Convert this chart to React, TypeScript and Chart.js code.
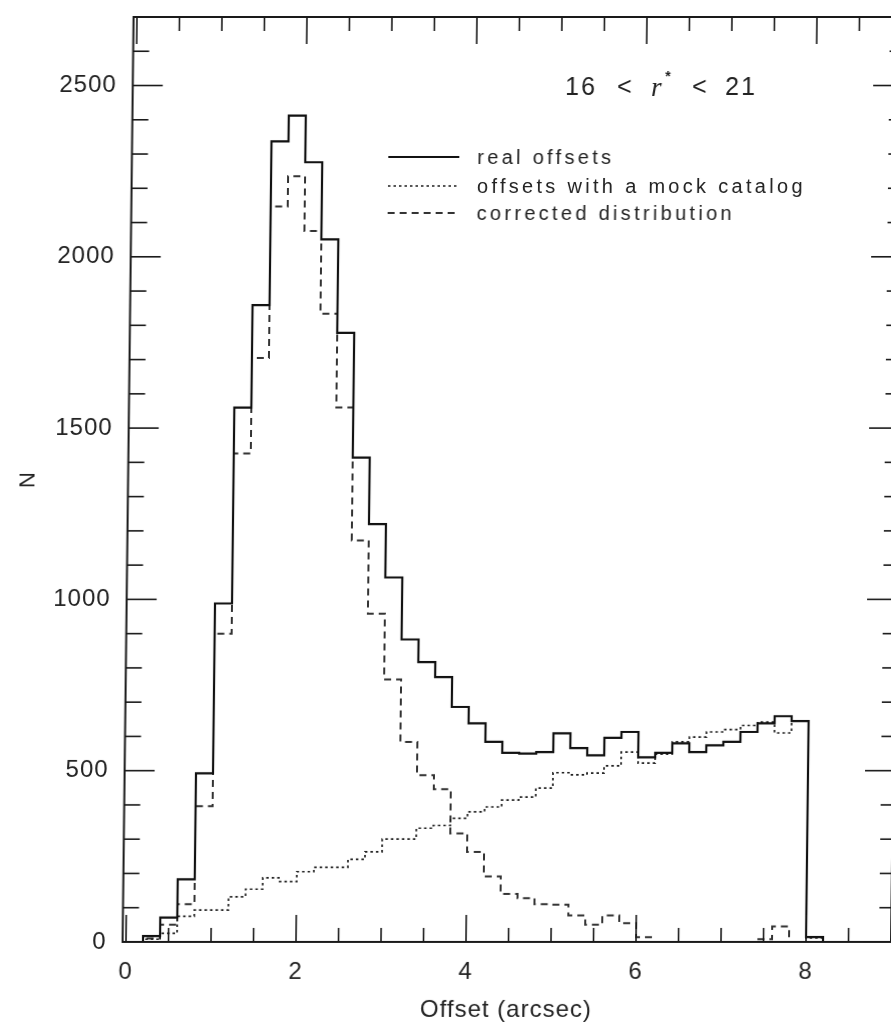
import React, { useEffect, useRef } from "react";
import { Chart, registerables } from "chart.js";

Chart.register(...registerables);

// Bin edges of the histogram (arcsec); the last edge closes the final bin
const binEdges = [
  0.0, 0.2, 0.4, 0.6, 0.8, 1.0, 1.2, 1.4, 1.6, 1.8, 2.0, 2.2, 2.4, 2.6, 2.8,
  3.0, 3.2, 3.4, 3.6, 3.8, 4.0, 4.2, 4.4, 4.6, 4.8, 5.0, 5.2, 5.4, 5.6, 5.8,
  6.0, 6.2, 6.4, 6.6, 6.8, 7.0, 7.2, 7.4, 7.6, 7.8, 8.0, 8.2, 8.4, 8.6, 8.8, 9.0,
];

// Counts per bin (one value per bin, bins start at binEdges[i])
const realOffsets = [
  0, 17, 71, 183, 492, 988, 1560, 1859, 2337, 2412, 2276, 2051, 1778, 1414, 1220,
  1064, 883, 817, 773, 686, 638, 584, 552, 550, 554, 609, 566, 545, 596, 613,
  539, 552, 580, 554, 574, 584, 613, 638, 659, 645, 14, 0, 0, 0, 0,
];
const mockOffsets = [
  0, 8, 25, 75, 93, 93, 132, 154, 187, 176, 205, 218, 218, 241, 263,
  300, 300, 332, 340, 361, 380, 394, 414, 423, 449, 494, 488, 493, 514, 554,
  522, 548, 584, 598, 613, 620, 632, 642, 610, 645, 12, 0, 0, 0, 0,
];
const correctedOffsets = [
  0, 10, 50, 110, 396, 900, 1426, 1705, 2147, 2235, 2075, 1834, 1560, 1172, 958,
  766, 584, 487, 446, 317, 263, 191, 140, 128, 110, 109, 77, 50, 77, 55,
  14, 0, 0, 0, 0, 0, 0, 8, 45, 0, 0, 0, 0, 0, 0,
];

const seriesLabels = ["real offsets", "offsets with a mock catalog", "corrected distribution"];

const xMajorTicks = [0, 2, 4, 6, 8];
const xMinorTicks = [0.5, 1, 1.5, 2.5, 3, 3.5, 4.5, 5, 5.5, 6.5, 7, 7.5, 8.5];
const yMajorTicks = [0, 500, 1000, 1500, 2000, 2500];
const yMinorTicks = [
  100, 200, 300, 400, 600, 700, 800, 900, 1100, 1200, 1300, 1400, 1600, 1700,
  1800, 1900, 2100, 2200, 2300, 2400, 2600,
];

const styles = [
  { color: "#111111", width: 2.2, dash: [] as number[] },
  { color: "#1e1e1e", width: 1.7, dash: [2.5, 3] },
  { color: "#333333", width: 2, dash: [7, 5] },
];

const FONT = '"Liberation Sans", Arial, sans-serif';

function toSteps(values: number[]) {
  return binEdges.map((x, i) => ({ x, y: i < values.length ? values[i] : values[values.length - 1] }));
}

const framePlugin = {
  id: "frameTicks",
  beforeDraw(chart: any) {
    chart.ctx.letterSpacing = "1px";
  },
  afterDatasetsDraw(chart: any) {
    const { ctx, chartArea: a, scales } = chart;
    const xs = scales.x;
    const ys = scales.y;
    ctx.save();
    ctx.letterSpacing = "0px";
    ctx.strokeStyle = "#1a1a1a";
    ctx.lineWidth = 2;
    ctx.setLineDash([]);
    ctx.strokeRect(a.left, a.top, a.right - a.left, a.bottom - a.top);
    ctx.lineWidth = 1.6;
    const seg = (x1: number, y1: number, x2: number, y2: number) => {
      ctx.beginPath();
      ctx.moveTo(x1, y1);
      ctx.lineTo(x2, y2);
      ctx.stroke();
    };
    xMajorTicks.forEach((v) => {
      const p = xs.getPixelForValue(v);
      seg(p, a.bottom, p, a.bottom - 27);
      seg(p, a.top, p, a.top + 27);
    });
    xMinorTicks.forEach((v) => {
      const p = xs.getPixelForValue(v);
      seg(p, a.bottom, p, a.bottom - 14);
      seg(p, a.top, p, a.top + 14);
    });
    yMajorTicks.forEach((v) => {
      const p = ys.getPixelForValue(v);
      seg(a.left, p, a.left + 30, p);
      seg(a.right, p, a.right - 28, p);
    });
    yMinorTicks.forEach((v) => {
      const p = ys.getPixelForValue(v);
      seg(a.left, p, a.left + 16, p);
      seg(a.right, p, a.right - 12, p);
    });
    ctx.restore();
  },
  afterDraw(chart: any) {
    const ctx = chart.ctx;
    ctx.save();
    // Legend
    const rows = [157, 186, 213];
    seriesLabels.forEach((label, i) => {
      const st = styles[i];
      ctx.strokeStyle = st.color;
      ctx.lineWidth = st.width;
      ctx.setLineDash(st.dash);
      ctx.beginPath();
      ctx.moveTo(379, rows[i]);
      ctx.lineTo(450, rows[i]);
      ctx.stroke();
      ctx.setLineDash([]);
      ctx.fillStyle = "#222";
      ctx.font = `20px ${FONT}`;
      ctx.letterSpacing = "3.3px";
      ctx.textBaseline = "middle";
      ctx.textAlign = "left";
      ctx.fillText(label, 468, rows[i] + 1);
    });
    // Annotation 16 < r* < 21
    const yc = 88;
    ctx.fillStyle = "#222";
    ctx.textBaseline = "middle";
    ctx.font = `25px ${FONT}`;
    ctx.letterSpacing = "2px";
    ctx.fillText("16", 555, yc);
    ctx.letterSpacing = "0px";
    ctx.fillText("<", 607, yc);
    ctx.font = `italic 27px "Liberation Serif", serif`;
    ctx.fillText("r", 641, yc + 1);
    ctx.font = `bold 14px ${FONT}`;
    ctx.fillText("*", 655, yc - 11);
    ctx.font = `25px ${FONT}`;
    ctx.fillText("<", 682, yc);
    ctx.letterSpacing = "2px";
    ctx.fillText("21", 715, yc);
    ctx.restore();
  },
};

export default function App() {
  const canvasRef = useRef<HTMLCanvasElement | null>(null);

  useEffect(() => {
    const canvas = canvasRef.current;
    if (!canvas) return;
    const seriesValues = [realOffsets, mockOffsets, correctedOffsets];
    const zeroPad = (scale: any) => {
      scale.paddingTop = 0;
      scale.paddingBottom = 0;
      scale.paddingLeft = 0;
      scale.paddingRight = 0;
    };
    const chart = new Chart(canvas, {
      type: "line",
      data: {
        datasets: seriesValues.map((vals, i) => ({
          label: seriesLabels[i],
          data: toSteps(vals),
          stepped: true,
          borderColor: styles[i].color,
          borderWidth: styles[i].width,
          borderDash: styles[i].dash,
          pointRadius: 0,
          fill: false,
          tension: 0,
        })),
      },
      options: {
        responsive: false,
        devicePixelRatio: 1,
        animation: false,
        events: [],
        layout: { padding: { top: 17, right: 0, bottom: 0, left: 0 } },
        plugins: { legend: { display: false }, tooltip: { enabled: false } },
        scales: {
          x: {
            type: "linear",
            min: -0.04,
            max: 9,
            grid: { display: false, drawTicks: false },
            border: { display: false },
            afterBuildTicks: (scale: any) => {
              scale.ticks = xMajorTicks.map((v) => ({ value: v }));
            },
            afterFit: (scale: any) => {
              scale.height = 83;
              zeroPad(scale);
            },
            ticks: {
              padding: 16,
              color: "#222",
              font: { family: FONT, size: 24 },
              maxRotation: 0,
              callback: (v: any) => String(v),
            },
            title: {
              display: true,
              text: "Offset (arcsec)",
              color: "#222",
              font: { family: FONT, size: 24 },
              padding: { top: 0, bottom: 0 },
            },
          },
          y: {
            type: "linear",
            min: 0,
            max: 2700,
            grid: { display: false, drawTicks: false },
            border: { display: false },
            afterBuildTicks: (scale: any) => {
              scale.ticks = yMajorTicks.map((v) => ({ value: v }));
            },
            afterFit: (scale: any) => {
              scale.width = 122.6;
              zeroPad(scale);
            },
            ticks: {
              padding: 16,
              color: "#222",
              font: { family: FONT, size: 24 },
              callback: (v: any) => String(v),
            },
            title: {
              display: true,
              text: "N",
              color: "#222",
              font: { family: FONT, size: 22 },
              padding: { top: 10, bottom: 0 },
            },
          },
        },
      },
      plugins: [framePlugin],
    } as any);
    return () => chart.destroy();
  }, []);

  return (
    <div
      style={{
        position: "fixed",
        left: 0,
        top: 0,
        width: 891,
        height: 1025,
        overflow: "hidden",
        background: "#fff",
      }}
    >
      <canvas
        ref={canvasRef}
        width={891}
        height={1025}
        style={{
          width: 891,
          height: 1025,
          display: "block",
          transform: "skewX(-0.68deg)",
          transformOrigin: "0px 942px",
        }}
      />
    </div>
  );
}
